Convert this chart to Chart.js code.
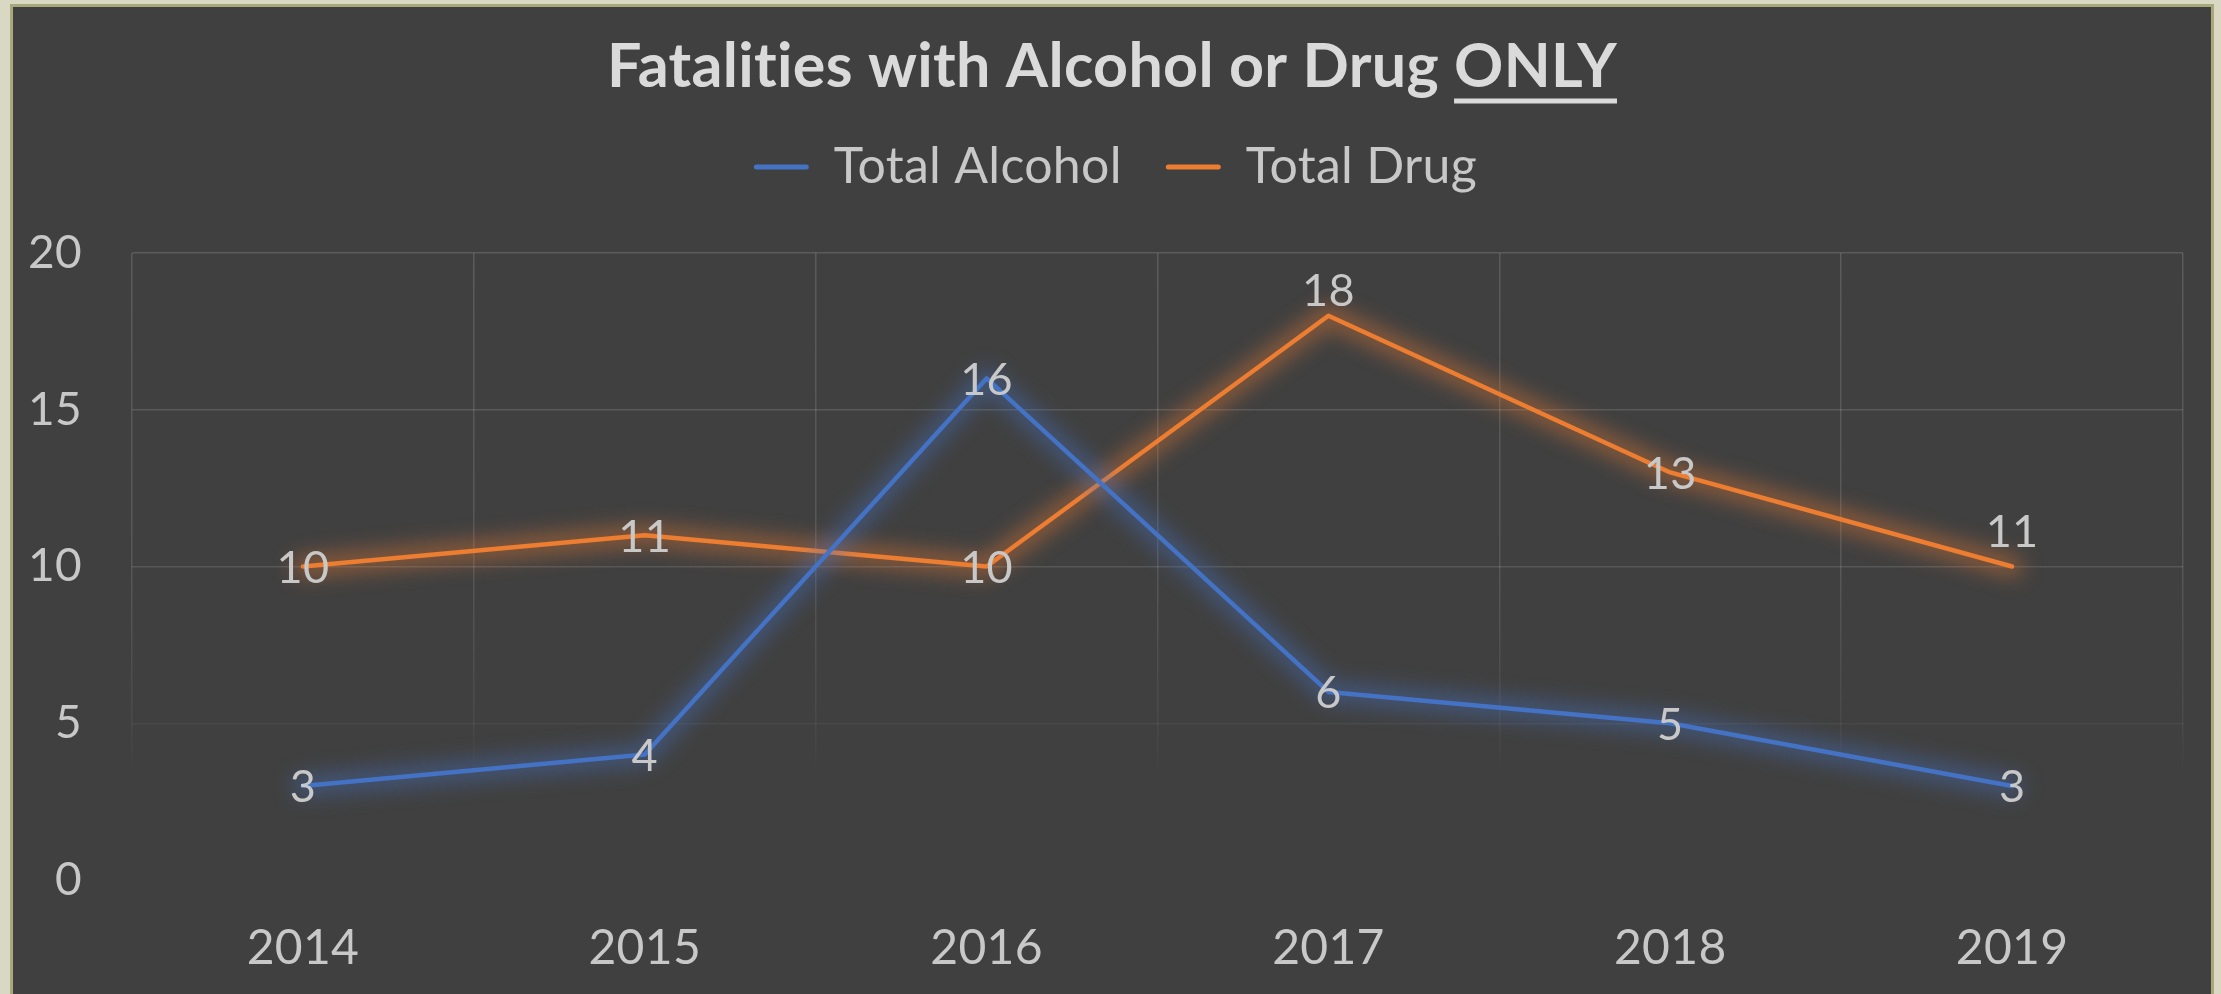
<!DOCTYPE html>
<html><head><meta charset="utf-8">
<script src="https://cdn.jsdelivr.net/npm/chart.js@4.4.0/dist/chart.umd.min.js"></script>
<style>
html,body{margin:0;padding:0;background:#d9d8c2;width:2221px;height:994px;overflow:hidden}
#frame{position:absolute;left:10px;top:4px;width:2198px;height:987px;border:3px solid #a9a87c;border-bottom:none;background:#404040}
#wrap{position:absolute;left:0;top:0;width:2198px;height:987px}
</style></head><body>
<div id="frame"><div id="wrap"><canvas id="c"></canvas></div></div>
<script>
const years = ['2014', '2015', '2016', '2017', '2018', '2019'];
const alcohol = [3, 4, 16, 6, 5, 3];
const drug = [10, 11, 10, 18, 13, 10];
const alcoholLabels = ['3', '4', '16', '6', '5', '3'];
const drugLabels = ['10', '11', '10', '18', '13', '11'];
const yTicks = [0, 5, 10, 15, 20];
const titleMain = 'Fatalities with Alcohol or Drug ';
const titleUnderlined = 'ONLY';

const TEXT = '#c8c8c8';
const FONT = 'Lato';

function gridGradient(ctx) {
  const chart = ctx.chart;
  const a = chart.chartArea;
  if (!a) return 'rgba(255,255,255,0.12)';
  const g = chart.ctx.createLinearGradient(0, a.top, 0, a.bottom);
  g.addColorStop(0, 'rgba(255,255,255,0.14)');
  g.addColorStop(0.5, 'rgba(255,255,255,0.12)');
  g.addColorStop(0.75, 'rgba(255,255,255,0.05)');
  g.addColorStop(0.84, 'rgba(255,255,255,0)');
  g.addColorStop(1, 'rgba(255,255,255,0)');
  return g;
}

const noLigatures = {
  id: 'noLigatures',
  beforeDraw(chart) { if ('letterSpacing' in chart.ctx) chart.ctx.letterSpacing = '0.3px'; }
};

// soft glow drawn under each line, following the dataset's own element points
const glowPlugin = {
  id: 'glow',
  beforeDatasetDraw(chart, args, opts) {
    const pts = chart.getDatasetMeta(args.index).data;
    if (!pts.length) return;
    const ctx = chart.ctx;
    ctx.save();
    ctx.filter = 'blur(' + opts.blur + 'px)';
    ctx.strokeStyle = opts.colors[args.index];
    ctx.lineWidth = opts.width;
    ctx.lineJoin = 'round';
    ctx.lineCap = 'round';
    ctx.beginPath();
    pts.forEach((p, i) => { if (i === 0) ctx.moveTo(p.x, p.y); else ctx.lineTo(p.x, p.y); });
    ctx.stroke();
    ctx.restore();
  }
};

const labelPlugin = {
  id: 'pointLabels',
  afterDatasetsDraw(chart, args, opts) {
    const ctx = chart.ctx;
    ctx.save();
    ctx.font = opts.size + 'px ' + FONT;
    ctx.fillStyle = opts.color;
    ctx.textAlign = 'center';
    ctx.textBaseline = 'middle';
    chart.data.datasets.forEach((ds, di) => {
      const meta = chart.getDatasetMeta(di);
      const offs = opts.offsets[di] || {};
      meta.data.forEach((pt, i) => {
        const dy = (offs[i] !== undefined) ? offs[i] : opts.centerShift;
        ctx.fillText(ds.valueLabels[i], pt.x, pt.y + dy);
      });
    });
    ctx.restore();
  }
};

const underlinePlugin = {
  id: 'titleUnderline',
  afterDraw(chart, args, opts) {
    const t = chart.titleBlock;
    if (!t) return;
    const ctx = chart.ctx;
    const to = chart.options.plugins.title;
    ctx.save();
    ctx.font = 'bold ' + to.font.size + 'px ' + FONT;
    const full = ctx.measureText(titleMain + titleUnderlined).width;
    const pre = ctx.measureText(titleMain).width;
    const w = ctx.measureText(titleUnderlined).width;
    const cx = (t.left + t.right) / 2;
    const cy = t.top + to.padding.top + to.font.size / 2;
    const x0 = cx - full / 2 + pre;
    ctx.fillStyle = to.color;
    ctx.fillRect(x0, cy + opts.offset, w, opts.thickness);
    ctx.restore();
  }
};

const chart = new Chart(document.getElementById('c'), {
  type: 'line',
  data: {
    labels: years,
    datasets: [
      { label: 'Total Alcohol', data: alcohol, valueLabels: alcoholLabels,
        borderColor: '#4472C4', backgroundColor: '#4472C4' },
      { label: 'Total Drug', data: drug, valueLabels: drugLabels,
        borderColor: '#ED7D31', backgroundColor: '#ED7D31' }
    ]
  },
  plugins: [noLigatures, glowPlugin, labelPlugin, underlinePlugin],
  options: {
    responsive: true,
    maintainAspectRatio: false,
    animation: false,
    layout: { padding: 0 },
    elements: {
      line: { borderWidth: 4.5, tension: 0, borderJoinStyle: 'round', borderCapStyle: 'round', fill: false },
      point: { radius: 0, hoverRadius: 0 }
    },
    plugins: {
      title: {
        display: true,
        text: titleMain + titleUnderlined,
        color: '#dadada',
        font: { family: FONT, size: 61, weight: 'bold', lineHeight: 1 },
        padding: { top: 30, bottom: 0 }
      },
      legend: {
        display: true,
        position: 'top',
        labels: {
          color: TEXT,
          font: { family: FONT, size: 50 },
          boxWidth: 55,
          boxHeight: 5,
          padding: 44,
          useBorderRadius: true,
          borderRadius: 2.5,
          generateLabels: (c) => Chart.defaults.plugins.legend.labels.generateLabels(c).map(l => Object.assign(l, { lineWidth: 0 }))
        }
      },
      subtitle: {
        display: true,
        text: '',
        weight: 900,
        font: { size: 10, lineHeight: 1 },
        padding: { top: 0, bottom: 41 }
      },
      tooltip: { enabled: false },
      glow: { blur: 10, width: 22, colors: ['rgba(68,114,196,0.42)', 'rgba(237,125,49,0.42)'] },
      pointLabels: { size: 45, color: TEXT, centerShift: 2, offsets: { 1: { 3: -24, 5: -34 } } },
      titleUnderline: { offset: 31, thickness: 5 }
    },
    scales: {
      x: {
        type: 'category',
        offset: true,
        grid: { display: true, offset: true, drawTicks: false, color: gridGradient, lineWidth: 1.5 },
        border: { display: false },
        ticks: { color: TEXT, font: { family: FONT, size: 48 }, padding: 40, maxRotation: 0, autoSkip: false },
        afterFit(s) { s.height = 114; }
      },
      y: {
        min: 0, max: 20,
        afterBuildTicks(s) { s.ticks = yTicks.map(v => ({ value: v })); },
        grid: { display: true, drawTicks: false, color: gridGradient, lineWidth: 1.5 },
        border: { display: false },
        ticks: { color: TEXT, font: { family: FONT, size: 46 }, padding: 50 },
        afterFit(s) { s.width = 119; }
      },
      yR: {
        position: 'right',
        display: true,
        grid: { display: false, drawTicks: false },
        border: { display: false },
        ticks: { display: false },
        afterFit(s) { s.width = 28; }
      }
    }
  }
});
</script>
</body></html>
